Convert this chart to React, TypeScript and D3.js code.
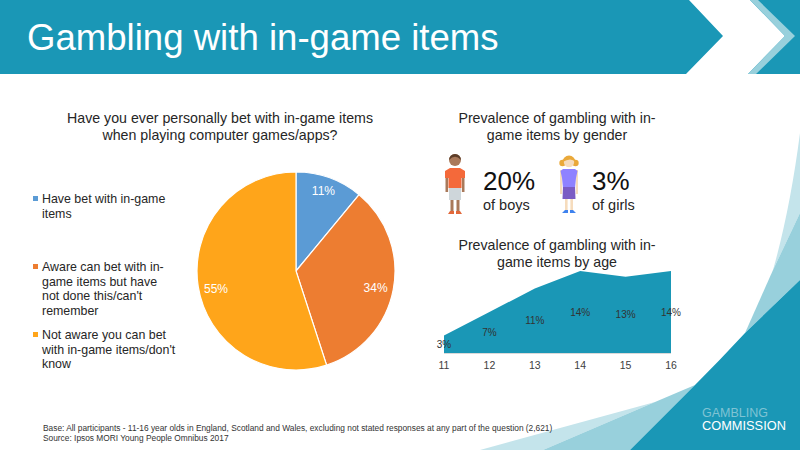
import React from 'react'
import * as d3 from 'd3'

const pieLabels = ['11%', '34%', '55%']
const pieValues = [11, 34, 55]
const pieColors = ['#5b9bd5', '#ed7d31', '#ffa51a']
const legendLines = [
    ['Have bet with in-game', 'items'],
    ['Aware can bet with in-', 'game items but have', "not done this/can't", 'remember'],
    ['Not aware you can bet', "with in-game items/don't", 'know'],
]
const ages = [11, 12, 13, 14, 15, 16]
const agePrevalence = [3, 7, 11, 14, 13, 14]

const TEAL = '#1a97b6'
const TEXT = '#262626'
const FONT = '"Liberation Sans", Arial, sans-serif'

const Boy = ({ x, y }: { x: number; y: number }) => (
    <g transform={`translate(${x},${y})`}>
        <rect x={-9.5} y={22} width={2.6} height={18} fill="#a9795a" />
        <rect x={6.9} y={22} width={2.6} height={18} fill="#a9795a" />
        <rect x={-4.5} y={46} width={3} height={14} fill="#a9795a" />
        <rect x={1.5} y={46} width={3} height={14} fill="#a9795a" />
        <rect x={-6} y={35} width={12} height={13} fill="#ced6da" />
        <path d="M-5,16 L5,16 L10,19 L10,26 L6.5,26 L6.5,36 L-6.5,36 L-6.5,26 L-10,26 L-10,19 Z" fill="#f4693a" />
        <circle cx={0} cy={8} r={6} fill="#a9795a" />
        <path d="M-6,8 A6,6 0 1 1 6,8 Q0,1.5 -6,8 Z" fill="#5c3d28" />
        <path d="M-5,59 L-1,59 L-1,62 L-7,62 Z M1,59 L5,59 L7,62 L1,62 Z" fill="#e2683a" />
    </g>
)

const Girl = ({ x, y }: { x: number; y: number }) => (
    <g transform={`translate(${x},${y})`}>
        <rect x={-9} y={17} width={2.2} height={24} fill="#f6dcbd" />
        <rect x={6.8} y={17} width={2.2} height={24} fill="#f6dcbd" />
        <rect x={-4} y={45} width={2.6} height={13} fill="#f6dcbd" />
        <rect x={1.4} y={45} width={2.6} height={13} fill="#f6dcbd" />
        <path d="M-6,16 L6,16 L8.5,18 L7,25 L6,35 L-6,35 L-7,25 L-8.5,18 Z" fill="#8f82ff" />
        <path d="M-6,34 L6,34 L6.5,46 L-6.5,46 Z" fill="#7b5cc4" />
        <circle cx={-6.5} cy={10} r={3.2} fill="#eaa93a" />
        <circle cx={6.5} cy={10} r={3.2} fill="#eaa93a" />
        <circle cx={0} cy={9} r={5.2} fill="#f6dcbd" />
        <path d="M-6.5,9 A6.5,6.5 0 1 1 6.5,9 Q2,4 -6.5,9 Z" fill="#eaa93a" />
        <path d="M-4,57 L-1,57 L-1,60 L-7,60 Z M1,57 L4,57 L7,60 L1,60 Z" fill="#3f82ee" />
    </g>
)

export default function App() {
    const pie = d3.pie<number>().sort(null)(pieValues)
    const arc = d3.arc<d3.PieArcDatum<number>>().innerRadius(0).outerRadius(99)
    const labelArc = d3.arc<d3.PieArcDatum<number>>().innerRadius(81).outerRadius(81)
    const labelNudge = [-3.5, 2, 5]

    const x = d3.scalePoint<number>().domain(ages).range([444, 671])
    const y = d3.scaleLinear().domain([0, 14]).range([353, 271])
    const area = d3
        .area<number>()
        .x((_, i) => x(ages[i])!)
        .y0(y(0))
        .y1((d) => y(d))

    return (
        <svg
            width={800}
            height={450}
            style={{ position: 'absolute', left: 0, top: 0, background: '#fff' }}
            fontFamily={FONT}
        >
            {/* header band */}
            <rect width={800} height={74} fill={TEAL} />
            <path d="M689,0 L723,36 L686,74 L748,74 L785,36 L750,0 Z" fill="#fff" />
            <path d="M750,0 L785,36 L748,74 L756,74 L795,36 L758,0 Z" fill="#98d0dc" />
            <text x={27} y={50} fontSize={36.6} fill="#fff">
                Gambling with in-game items
            </text>

            {/* corner decoration */}
            <path d="M800,133 Q790,210 773,270 L800,213 Z" fill="#c4e4eb" />
            <path d="M800,213 L773,270 L745,333 L800,280 Z" fill="#98d0dc" />
            <path d="M480,450 L655,402 L543,450 Z" fill="#c4e4eb" />
            <path d="M543,450 L655,402 L695,385 L630,450 Z" fill="#98d0dc" />
            <path d="M800,280 L745,333 Q720,360 695,385 L630,450 L800,450 Z" fill={TEAL} />
            <text x={702} y={416.5} fontSize={12.5} fill="#7fc3d4">
                GAMBLING
            </text>
            <text x={702} y={430} fontSize={12.8} fill="#fff">
                COMMISSION
            </text>

            {/* pie */}
            <g fontSize={14.2} fill={TEXT} textAnchor="middle">
                <text x={220} y={123}>Have you ever personally bet with in-game items</text>
                <text x={220} y={140}>when playing computer games/apps?</text>
            </g>
            <g transform="translate(296,271)">
                {pie.map((d, i) => (
                    <path key={i} d={arc(d)!} fill={pieColors[i]} stroke="#fff" strokeWidth={1.2} />
                ))}
                {pie.map((d, i) => {
                    const [lx, ly] = labelArc.centroid(d)
                    return (
                        <text key={i} x={lx} y={ly + 4 + labelNudge[i]} textAnchor="middle" fontSize={12} fill="#fff">
                            {pieLabels[i]}
                        </text>
                    )
                })}
            </g>

            {/* legend */}
            {legendLines.map((lines, i) => {
                const top = [203, 271, 339][i]
                return (
                    <g key={i}>
                        <rect x={33} y={top - 7} width={5} height={5} fill={pieColors[i]} />
                        {lines.map((line, j) => (
                            <text key={j} x={42} y={top + j * 14.5} fontSize={12.4} fill={TEXT}>
                                {line}
                            </text>
                        ))}
                    </g>
                )
            })}

            {/* gender */}
            <g fontSize={14.2} fill={TEXT} textAnchor="middle">
                <text x={557} y={123}>Prevalence of gambling with in-</text>
                <text x={557} y={140}>game items by gender</text>
            </g>
            <Boy x={455} y={152} />
            <Girl x={569} y={153} />
            <text x={483} y={190} fontSize={26} fill="#111">20%</text>
            <text x={483} y={210} fontSize={14.5} fill={TEXT}>of boys</text>
            <text x={592} y={190} fontSize={26} fill="#111">3%</text>
            <text x={592} y={210} fontSize={14.5} fill={TEXT}>of girls</text>

            {/* age */}
            <g fontSize={14.2} fill={TEXT} textAnchor="middle">
                <text x={557} y={250}>Prevalence of gambling with in-</text>
                <text x={557} y={267}>game items by age</text>
            </g>
            <path d={area(agePrevalence)!} fill={TEAL} />
            <line x1={444} x2={671} y1={353.5} y2={353.5} stroke="#d9d9d9" />
            {ages.map((a, i) => (
                <g key={a}>
                    <text x={x(a)} y={(y(agePrevalence[i]) + y(0)) / 2 + 3.5} textAnchor="middle" fontSize={10} fill="#333">
                        {agePrevalence[i]}%
                    </text>
                    <text x={x(a)} y={369} textAnchor="middle" fontSize={10.5} fill="#404040">
                        {a}
                    </text>
                </g>
            ))}

            {/* footnote */}
            <text x={43} y={431} fontSize={8.35} fill="#333">
                Base: All participants - 11-16 year olds in England, Scotland and Wales, excluding not stated responses at any part of the question (2,621)
            </text>
            <text x={43} y={441} fontSize={8.35} fill="#333">
                Source: Ipsos MORI Young People Omnibus 2017
            </text>
        </svg>
    )
}
